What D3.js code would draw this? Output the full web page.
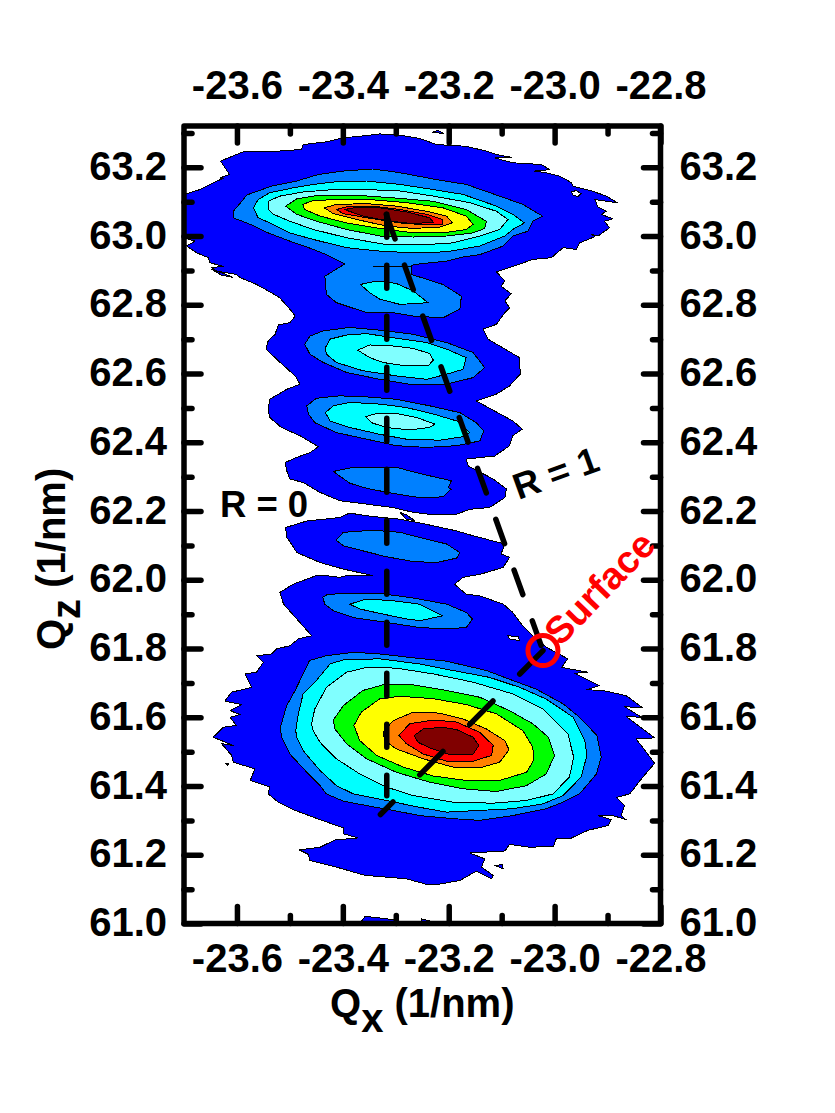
<!DOCTYPE html>
<html><head><meta charset="utf-8">
<script src="https://cdn.jsdelivr.net/npm/d3@7/dist/d3.min.js"></script>
<style>html,body{margin:0;padding:0;background:#fff}svg{display:block}
text{font-family:"Liberation Sans",Arial,sans-serif;font-weight:bold;fill:#000}</style>
</head><body><svg id="c" width="835" height="1113"></svg>
<script>
// Contour outlines. Each point is [Qx, Qz] in thousandths of 1/nm
// above the axis minimum (Qx0, Qz0).
const Qx0 = -23.7, Qz0 = 61.0;
const xDomain = [-23.7, -22.8], zDomain = [61.0, 63.32];
const xMajor = [-23.6, -23.4, -23.2, -23.0, -22.8];
const xMinor = [-23.5, -23.3, -23.1, -22.9];
const zMajor = [61.0, 61.2, 61.4, 61.6, 61.8, 62.0, 62.2, 62.4, 62.6, 62.8, 63.0, 63.2];
const zMinor = [61.1, 61.3, 61.5, 61.7, 61.9, 62.1, 62.3, 62.5, 62.7, 62.9, 63.1, 63.3];
const levelColors = ["#0000FF","#0080FF","#00FFFF","#80FFFF","#00FF00","#FFFF00","#FF8000","#FF0000","#800000"];

const level1Upper = [[0,2121],[30,2135],[62,2160],[74,2167],[68,2169],[86,2179],[69,2218],[112,2245],[156,2245],[200,2249],[222,2252],[225,2266],[269,2274],[301,2286],[332,2290],[370,2297],[408,2293],[445,2284],[477,2266],[533,2261],[571,2247],[590,2237],[618,2229],[587,2227],[621,2213],[675,2208],[691,2193],[662,2189],[684,2184],[710,2174],[732,2155],[735,2145],[772,2130],[798,2116],[818,2097],[776,2106],[782,2084],[798,2072],[788,2063],[810,2050],[794,2043],[804,2024],[782,2000],[769,2005],[776,1998],[747,1980],[741,1961],[716,1966],[694,1937],[659,1932],[615,1908],[590,1896],[606,1869],[599,1854],[618,1832],[606,1811],[615,1791],[606,1777],[590,1743],[565,1729],[574,1700],[634,1646],[635,1598],[615,1564],[590,1540],[552,1520],[621,1462],[639,1438],[621,1419],[615,1390],[587,1360],[533,1351],[537,1331],[584,1293],[609,1264],[606,1239],[577,1210],[540,1205],[515,1191],[471,1189],[433,1196],[395,1210],[345,1220],[294,1230],[257,1254],[225,1283],[200,1293],[194,1317],[191,1341],[213,1356],[238,1370],[254,1387],[219,1419],[184,1443],[162,1472],[159,1496],[162,1525],[194,1554],[219,1569],[210,1593],[178,1637],[155,1671],[159,1695],[172,1714],[178,1741],[200,1748],[210,1767],[200,1787],[181,1820],[165,1835],[137,1859],[106,1879],[99,1888],[62,1898],[52,1908],[74,1912],[49,1922],[46,1937],[24,1951],[5,1971],[21,1985],[0,1995]];
const level1Lower = [[294,1181],[313,1194],[345,1186],[408,1176],[439,1167],[471,1157],[515,1142],[546,1128],[606,1104],[599,1075],[615,1065],[603,1036],[562,1017],[527,1007],[511,987],[533,958],[559,953],[603,929],[621,905],[640,866],[659,837],[684,804],[725,770],[713,745],[763,731],[738,728],[785,692],[760,680],[791,678],[835,663],[867,627],[832,631],[864,600],[835,602],[889,540],[854,537],[889,466],[864,421],[842,377],[817,367],[832,343],[826,314],[835,302],[810,314],[782,314],[807,302],[801,285],[763,271],[728,246],[703,246],[698,224],[653,222],[615,230],[606,211],[540,205],[568,188],[562,164],[584,140],[581,130],[552,152],[521,125],[480,114],[458,114],[420,130],[342,140],[288,164],[238,183],[235,201],[218,214],[257,222],[285,243],[329,249],[301,261],[301,278],[257,302],[210,329],[178,353],[159,377],[162,397],[125,416],[134,450],[93,469],[90,489],[71,523],[93,518],[55,542],[74,571],[99,576],[87,600],[106,608],[87,619],[109,637],[77,647],[90,673],[128,687],[115,726],[137,731],[150,760],[137,779],[165,784],[175,799],[200,808],[216,828],[241,837],[213,886],[188,929],[181,963],[206,987],[250,1012],[269,1012],[294,1007],[307,1012],[357,1012],[301,1031],[257,1050],[213,1079],[203,1104],[194,1123],[192,1152],[232,1171]];
const level1IslandTop = [[469,2302],[480,2307],[491,2298]];
const level1IslandLeft = [[52,1903],[71,1893],[92,1880],[71,1886]];
const level1IslandGap = [[408,1196],[420,1189],[436,1172],[420,1176]];
const level1IslandDot = [[79,466],[85,464],[82,461]];
const level1IslandRight = [[587,169],[601,171],[603,159]];
const level1IslandBottomA = [[332,0],[342,21],[382,14],[433,0]];
const level1IslandBottomB = [[448,14],[467,6],[467,0],[448,0]];
const holeUpper = [[732,2129],[741,2132],[750,2123],[744,2115],[735,2119]];
const holeLower = [[612,837],[631,835],[634,823],[615,828]];

const level2Top = [[93,2072],[112,2106],[118,2119],[165,2145],[213,2160],[254,2179],[301,2189],[357,2195],[408,2184],[477,2164],[533,2150],[596,2116],[640,2092],[677,2058],[659,2043],[650,2014],[621,2000],[603,1971],[559,1946],[527,1939],[496,1927],[445,1919],[430,1915],[430,1888],[489,1859],[524,1825],[521,1787],[489,1762],[433,1767],[395,1777],[345,1777],[288,1806],[269,1830],[266,1883],[304,1919],[269,1946],[232,1968],[200,1985],[159,2009],[125,2034],[93,2053]];
const level2Sliver = [[357,1911],[430,1911]];
const level2B = [[228,1685],[238,1709],[263,1724],[313,1734],[370,1726],[433,1714],[496,1690],[546,1661],[568,1617],[546,1588],[496,1569],[433,1567],[370,1583],[307,1603],[263,1632],[238,1656]];
const level2C = [[232,1506],[250,1528],[294,1535],[345,1532],[401,1525],[464,1506],[521,1486],[552,1457],[566,1433],[559,1404],[515,1390],[458,1385],[401,1390],[345,1409],[288,1428],[247,1457],[235,1482]];
const level2D = [[282,1315],[313,1325],[357,1327],[401,1327],[445,1309],[505,1288],[499,1268],[505,1264],[489,1241],[445,1239],[395,1251],[345,1266],[313,1281]];
const level2E = [[287,1115],[301,1138],[338,1142],[357,1144],[408,1138],[445,1123],[496,1104],[521,1079],[515,1063],[477,1050],[433,1053],[382,1067],[338,1084],[301,1099]];
const level2F = [[262,949],[272,958],[320,960],[370,960],[433,947],[496,929],[533,905],[545,886],[533,861],[496,857],[445,861],[382,876],[320,890],[282,910],[266,929]];
const level2Main = [[182,571],[194,634],[210,678],[225,726],[237,765],[269,779],[320,789],[370,784],[433,773],[496,763],[571,736],[621,707],[665,682],[716,639],[747,600],[780,547],[788,484],[779,435],[747,377],[716,353],[684,334],[621,314],[559,300],[508,305],[445,314],[395,329],[345,343],[301,356],[269,377],[257,401],[232,440],[200,493],[184,542]];

const level3Top = [[131,2082],[140,2106],[162,2126],[206,2140],[244,2150],[282,2157],[345,2160],[408,2150],[471,2135],[527,2121],[590,2087],[621,2063],[643,2038],[621,2019],[606,2000],[559,1971],[496,1954],[433,1951],[370,1956],[307,1966],[244,1990],[200,2009],[162,2038],[140,2053]];
const level3A = [[333,1859],[364,1869],[401,1862],[433,1840],[461,1806],[408,1801],[370,1816],[351,1835]];
const level3B = [[267,1675],[276,1700],[307,1712],[345,1716],[395,1704],[458,1690],[496,1671],[533,1646],[527,1612],[496,1598],[458,1583],[401,1593],[338,1608],[288,1632],[269,1656]];
const level3C = [[267,1486],[282,1506],[313,1516],[370,1511],[420,1501],[471,1482],[515,1462],[540,1428],[527,1416],[483,1406],[420,1409],[370,1423],[313,1443],[276,1462]];
const level3F = [[313,929],[345,944],[395,939],[445,929],[489,895],[445,881],[420,886],[370,902],[332,915]];
const level3Main = [[211,561],[216,610],[225,668],[250,707],[276,755],[301,767],[370,770],[445,755],[508,736],[577,716],[634,687],[684,653],[735,600],[757,532],[761,489],[750,426],[716,372],[678,348],[621,334],[559,329],[496,324],[445,338],[382,358],[320,377],[288,401],[257,445],[225,503],[213,542]];

const level4Top = [[159,2101],[181,2116],[225,2128],[282,2135],[345,2135],[408,2131],[471,2116],[540,2097],[590,2072],[612,2048],[596,2019],[559,2000],[508,1980],[445,1974],[382,1975],[307,1995],[244,2019],[200,2043],[169,2063],[159,2077]];
const level4B = [[328,1668],[351,1683],[395,1680],[433,1673],[464,1658],[471,1639],[461,1622],[420,1622],[376,1632],[351,1646]];
const level4C = [[343,1474],[364,1484],[401,1484],[439,1472],[474,1453],[464,1443],[426,1436],[382,1443],[354,1457]];
const level4Main = [[241,581],[247,624],[269,687],[307,731],[345,745],[401,743],[471,726],[546,702],[621,668],[678,624],[725,552],[736,484],[728,426],[697,377],[647,358],[584,350],[508,353],[433,372],[382,397],[332,435],[288,479],[257,527],[244,561]];

const level5Top = [[192,2087],[213,2108],[257,2119],[320,2119],[395,2111],[471,2101],[533,2077],[571,2043],[568,2022],[546,2009],[496,2000],[433,1997],[370,2000],[307,2019],[250,2043],[213,2063]];
const level5Main = [[282,592],[301,634],[338,678],[382,697],[433,694],[496,678],[559,658],[615,619],[659,581],[688,542],[700,489],[684,435],[647,401],[590,384],[527,392],[464,411],[401,440],[345,479],[307,523],[285,566]];
const level6Top = [[224,2092],[244,2103],[288,2106],[351,2106],[420,2097],[489,2082],[533,2058],[546,2034],[533,2019],[489,2009],[433,2009],[370,2022],[307,2038],[257,2058],[228,2077]];
const level6Main = [[321,576],[335,615],[370,654],[408,661],[471,654],[533,637],[590,610],[640,561],[659,513],[660,474],[647,440],[596,416],[533,416],[471,429],[414,455],[364,489],[332,532]];
const level7Top = [[265,2082],[288,2092],[345,2094],[401,2087],[458,2072],[496,2058],[507,2038],[483,2026],[433,2022],[382,2029],[326,2048],[282,2065]];
const level7Main = [[376,556],[395,590],[433,615],[483,612],[527,595],[571,566],[606,532],[614,505],[596,469],[559,453],[508,455],[452,479],[401,508],[379,532]];
const level8Top = [[288,2077],[313,2087],[357,2087],[408,2077],[458,2063],[489,2048],[489,2034],[458,2032],[408,2038],[345,2053],[301,2065]];
const level8Main = [[406,547],[426,581],[471,592],[515,586],[559,556],[584,518],[581,489],[546,472],[496,472],[452,493],[420,523]];
const level9Top = [[303,2077],[326,2083],[370,2082],[420,2070],[464,2053],[471,2040],[433,2036],[389,2043],[338,2058]];
const level9Main = [[435,547],[452,566],[489,571],[515,564],[546,542],[557,518],[546,493],[502,491],[464,511],[442,527]];

// Relaxation lines and the surface marker, same units
const lineR0 = [[383,2063],[383,372]];
const lineR1 = [[382,2063],[678,794]];
const lineSurface = [[678,794],[371,317]];
const surfacePoint = [678,794];

const layers = [
 [0,[level1Upper,level1Lower,level1IslandTop,level1IslandLeft,level1IslandGap,level1IslandDot,level1IslandRight,level1IslandBottomA,level1IslandBottomB]],
 [1,[level2Top,level2Sliver,level2B,level2C,level2D,level2E,level2F,level2Main]],
 [2,[level3Top,level3A,level3B,level3C,level3F,level3Main]],
 [3,[level4Top,level4B,level4C,level4Main]],
 [4,[level5Top,level5Main]],
 [5,[level6Top,level6Main]],
 [6,[level7Top,level7Main]],
 [7,[level8Top,level8Main]],
 [8,[level9Top,level9Main]]
];

const L=184,R=660.5,T=126,B=923.5;
const x=d3.scaleLinear().domain(xDomain).range([L,R]);
const y=d3.scaleLinear().domain(zDomain).range([B,T]);
const px=p=>x(Qx0+p[0]/1000), py=p=>y(Qz0+p[1]/1000);
const line=d3.line().x(px).y(py);
const closed=d3.line().x(px).y(py).curve(d3.curveLinearClosed);

const svg=d3.select("#c");
svg.append("clipPath").attr("id","plot").append("rect").attr("x",L).attr("y",T).attr("width",R-L).attr("height",B-T);
const plot=svg.append("g").attr("clip-path","url(#plot)");
layers.forEach(([lvl,polys])=>{
  plot.append("g").selectAll("path").data(polys).join("path")
    .attr("d",closed).attr("fill",levelColors[lvl]).attr("stroke","#000").attr("stroke-width",1)
    .attr("stroke-linejoin","round").attr("shape-rendering","crispEdges");
  if(lvl===0) plot.append("g").selectAll("path").data([holeUpper,holeLower]).join("path")
    .attr("d",closed).attr("fill","#fff").attr("stroke","#000").attr("stroke-width",1).attr("shape-rendering","crispEdges");
});
const dash=(pts,d)=>plot.append("path").attr("d",line(pts)).attr("fill","none").attr("stroke","#000")
  .attr("stroke-width",5.5).attr("stroke-linecap","round").attr("stroke-dasharray",d);
dash(lineR0,"23 28");
dash(lineR1,"26 28");
dash(lineSurface,"33 38");

// Frame and ticks
const fmt=d=>d.toFixed(1);
function styleAxis(g){g.select(".domain").remove();g.selectAll("line").attr("stroke","#000").attr("stroke-width",5.5).attr("stroke-linecap","round");}
const major=17,minor=8;
const fs=40;
function ax(gen,tx,ty,vals,len,lab,fn){
  const g=svg.append("g").attr("transform",`translate(${tx},${ty})`)
    .call(gen.tickValues(vals).tickSize(-len).tickFormat(lab?fmt:()=>"")).call(styleAxis);
  g.selectAll("text").attr("font-size",fs);
  if(fn) fn(g);
}
ax(d3.axisBottom(x),0,B,xMajor,major,true,g=>g.selectAll("text").attr("y",48.5).attr("dy",0));
ax(d3.axisBottom(x),0,B,xMinor,minor,false);
ax(d3.axisTop(x),0,T,xMajor,major,true,g=>g.selectAll("text").attr("y",-27).attr("dy",0));
ax(d3.axisTop(x),0,T,xMinor,minor,false);
ax(d3.axisLeft(y),L,0,zMajor,major,true,g=>g.selectAll("text").attr("x",-17).attr("dy",12));
ax(d3.axisLeft(y),L,0,zMinor,minor,false);
ax(d3.axisRight(y),R,0,zMajor,major,true,g=>g.selectAll("text").attr("x",19).attr("dy",12));
ax(d3.axisRight(y),R,0,zMinor,minor,false);
svg.append("rect").attr("x",L).attr("y",T).attr("width",R-L).attr("height",B-T)
  .attr("fill","none").attr("stroke","#000").attr("stroke-width",5.5).attr("stroke-linejoin","round");

// Surface marker
svg.append("circle").attr("cx",px(surfacePoint)).attr("cy",py(surfacePoint)).attr("r",15)
  .attr("fill","none").attr("stroke","#FF0000").attr("stroke-width",5);

// Labels
const t=(txt,xx,yy,size,rot,col)=>svg.append("text").text(txt).attr("font-size",size)
  .attr("transform",`translate(${xx},${yy}) rotate(${rot})`).attr("text-anchor","middle").style("fill",col||"#000");
t("R = 0",264,517,36.5,0);
t("R = 1",560,485,36.5,-20);
t("Surface",609,597,38,-46,"#FF0000");

const qx=svg.append("text").attr("x",330).attr("y",1017).attr("font-size",fs);
qx.append("tspan").text("Q");
qx.append("tspan").text("x").attr("dy",15);
qx.append("tspan").text(" (1/nm)").attr("dy",-15);
const qz=svg.append("text").attr("transform","translate(65,650) rotate(-90)").attr("font-size",fs);
qz.append("tspan").text("Q");
qz.append("tspan").text("z").attr("dy",15);
qz.append("tspan").text(" (1/nm)").attr("dy",-15);
</script></body></html>
